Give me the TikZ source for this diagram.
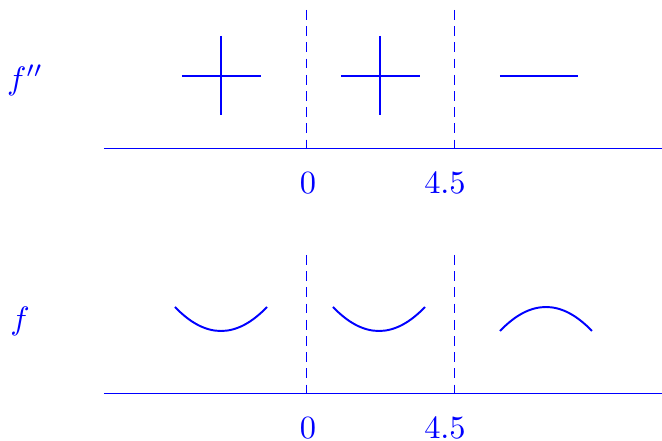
\documentclass[tikz,border=0pt]{standalone}
\begin{document}
\begin{tikzpicture}[x=0.3086pt,y=-0.3086pt,
  ink/.style={blue},
  axisline/.style={ink,line width=0.3pt},
  divider/.style={ink,line width=0.25pt,dash pattern=on 3pt off 2pt},
  signline/.style={ink,line width=0.6pt},
  curveline/.style={ink,line width=0.6pt},
  lbl/.style={ink,inner sep=0pt}]
\useasboundingbox (0,0) rectangle (662,441);
% top row
\node[lbl] (fpp) at (25,80) {$f''$};
\coordinate (ta0) at (104,148); \coordinate (ta1) at (662,148);
\draw[axisline] (ta0) -- (ta1);
\coordinate (td0a) at (306,10); \coordinate (td0b) at (306,155);
\coordinate (td1a) at (454,10); \coordinate (td1b) at (454,155);
\draw[divider] (td0a) -- (td0b);
\draw[divider] (td1a) -- (td1b);
\node[lbl] (t0) at (308,183) {$0$};
\node[lbl] (t45) at (445,183) {$4.5$};
\coordinate (p1l) at (182,76); \coordinate (p1r) at (261,76);
\coordinate (p1t) at (221,36); \coordinate (p1b) at (221,115);
\draw[signline] (p1l) -- (p1r); \draw[signline] (p1t) -- (p1b);
\coordinate (p2l) at (341,76); \coordinate (p2r) at (420,76);
\coordinate (p2t) at (380,36); \coordinate (p2b) at (380,115);
\draw[signline] (p2l) -- (p2r); \draw[signline] (p2t) -- (p2b);
\coordinate (ml) at (500,76); \coordinate (mr) at (578,76);
\draw[signline] (ml) -- (mr);
% bottom row
\node[lbl] (f) at (20,321) {$f$};
\coordinate (ba0) at (104,393); \coordinate (ba1) at (662,393);
\draw[axisline] (ba0) -- (ba1);
\coordinate (bd0a) at (306,255); \coordinate (bd0b) at (306,400);
\coordinate (bd1a) at (454,255); \coordinate (bd1b) at (454,400);
\draw[divider] (bd0a) -- (bd0b);
\draw[divider] (bd1a) -- (bd1b);
\node[lbl] (b0) at (308,428) {$0$};
\node[lbl] (b45) at (445,428) {$4.5$};
\coordinate (c1a) at (175,307); \coordinate (c1b) at (267,307);
\draw[curveline] (c1a) .. controls (205.7,339) and (236.3,339) .. (c1b);
\coordinate (c2a) at (333,307); \coordinate (c2b) at (425,307);
\draw[curveline] (c2a) .. controls (363.7,339) and (394.3,339) .. (c2b);
\coordinate (c3a) at (500,331); \coordinate (c3b) at (592,331);
\draw[curveline] (c3a) .. controls (530.7,299) and (561.3,299) .. (c3b);
\end{tikzpicture}
\end{document}
